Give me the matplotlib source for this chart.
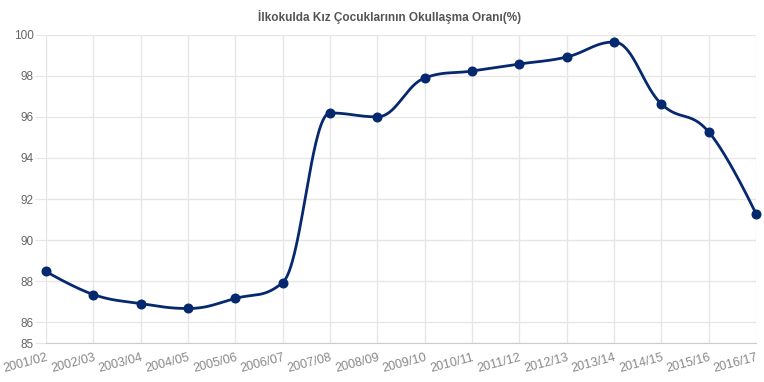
import numpy as np
import matplotlib
matplotlib.use('Agg')
from matplotlib import pyplot as plt

# --- data ---
years = ['2001/02', '2002/03', '2003/04', '2004/05', '2005/06', '2006/07', '2007/08', '2008/09',
         '2009/10', '2010/11', '2011/12', '2012/13', '2013/14', '2014/15', '2015/16', '2016/17']
rates = [88.48, 87.36, 86.92, 86.68, 87.17, 87.94, 96.19, 96.00,
         97.89, 98.23, 98.57, 98.91, 99.64, 96.63, 95.27, 91.29]
y_ticks = [85, 86, 88, 90, 92, 94, 96, 98, 100]
title = 'İlkokulda Kız Çocuklarının Okullaşma Oranı(%)'

line_color = '#06286e'
grid_color = '#e6e6e6'
text_color = '#666666'


def spline_controls(xs, ys, smoothing=1.5):
    # highcharts-like spline: left/right control points for each point
    n = len(xs)
    denom = smoothing + 1
    left = [(xs[i], ys[i]) for i in range(n)]
    right = [(xs[i], ys[i]) for i in range(n)]
    for i in range(1, n - 1):
        px, py = xs[i], ys[i]
        lx, ly = xs[i - 1], ys[i - 1]
        nx, ny = xs[i + 1], ys[i + 1]
        lcx = (smoothing * px + lx) / denom
        lcy = (smoothing * py + ly) / denom
        rcx = (smoothing * px + nx) / denom
        rcy = (smoothing * py + ny) / denom
        corr = ((rcy - lcy) * (rcx - px)) / (rcx - lcx) + py - rcy
        lcy += corr
        rcy += corr
        if lcy > ly and lcy > py:
            lcy = max(ly, py)
            rcy = 2 * py - lcy
        elif lcy < ly and lcy < py:
            lcy = min(ly, py)
            rcy = 2 * py - lcy
        if rcy > ny and rcy > py:
            rcy = max(ny, py)
            lcy = 2 * py - rcy
        elif rcy < ny and rcy < py:
            rcy = min(ny, py)
            lcy = 2 * py - rcy
        left[i] = (lcx, lcy)
        right[i] = (rcx, rcy)
    return left, right


def spline_curve(xs, ys, steps=40):
    left, right = spline_controls(xs, ys)
    cx, cy = [], []
    t = np.linspace(0, 1, steps)
    for i in range(len(xs) - 1):
        p0 = np.array([xs[i], ys[i]])
        p1 = np.array(right[i])
        p2 = np.array(left[i + 1])
        p3 = np.array([xs[i + 1], ys[i + 1]])
        pts = ((1 - t) ** 3)[:, None] * p0 + (3 * (1 - t) ** 2 * t)[:, None] * p1 \
            + (3 * (1 - t) * t ** 2)[:, None] * p2 + (t ** 3)[:, None] * p3
        cx.extend(pts[:, 0])
        cy.extend(pts[:, 1])
    return cx, cy


x = np.arange(len(years))

fig = plt.figure(figsize=(7.64, 3.82), dpi=100)
ax = fig.add_axes([0.0602, 0.102, 0.9293, 0.8074])

cx, cy = spline_curve(list(x), rates)
ax.plot(cx, cy, color=line_color, lw=2.0, solid_capstyle='round', zorder=3, clip_on=False)
ax.plot(x, rates, 'o', color=line_color, ms=6.2, zorder=4, clip_on=False)

ax.set_xlim(0, len(years) - 1)
ax.set_ylim(85, 100)
ax.set_yticks(y_ticks)
ax.set_xticks(x)
ax.set_xticklabels(years, rotation=15, ha='right', rotation_mode='anchor')

ax.grid(True, color=grid_color, lw=1, zorder=0)
for s in ['top', 'right', 'left']:
    ax.spines[s].set_visible(False)
ax.spines['bottom'].set_color('#cccccc')

ax.tick_params(axis='x', length=0, pad=6, labelsize=9, labelcolor='#888888')
ax.tick_params(axis='y', length=8, color=grid_color, pad=1, labelsize=8.5, labelcolor=text_color)
for lab in ax.get_xticklabels() + ax.get_yticklabels():
    lab.set_fontfamily('Liberation Sans')

fig.text(0.51, 0.955, title, ha='center', va='center', fontsize=8.5, fontweight='bold',
         color='#555555', family='Liberation Sans')

plt.savefig('out.png', dpi=100)
